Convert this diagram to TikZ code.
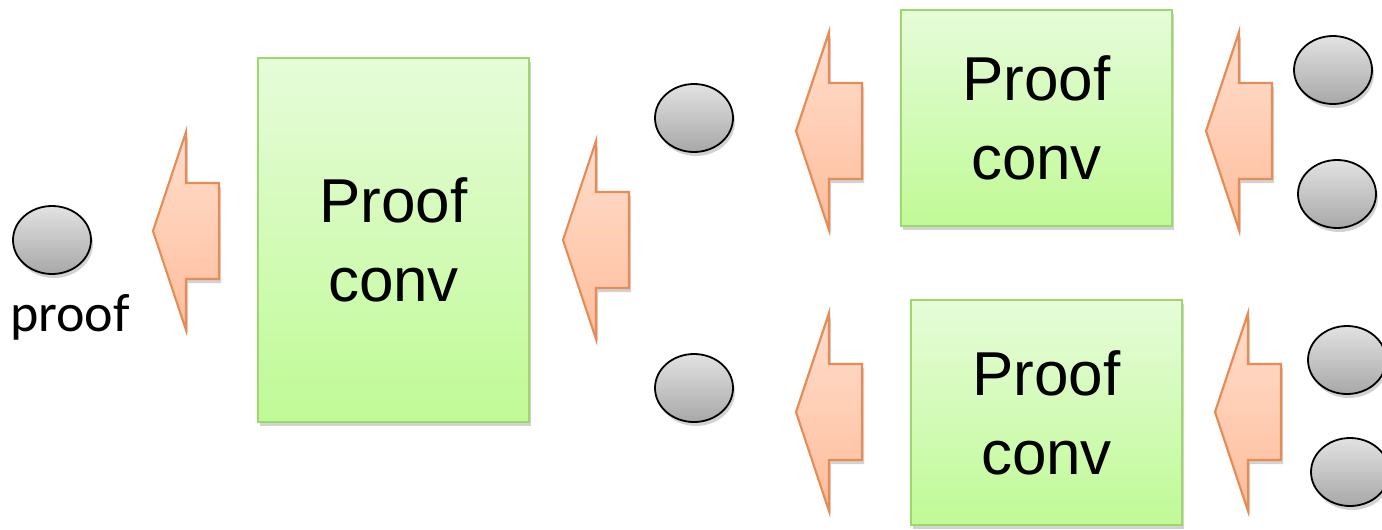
\documentclass[tikz,border=0pt]{standalone}
\usepackage{fontspec}
\setmainfont{Liberation Sans}
\newfontfamily\labelfont{Carlito}
\usetikzlibrary{shadows,shapes.geometric}

\definecolor{boxtop}{HTML}{E6FCD9}
\definecolor{boxbot}{HTML}{C0FA96}
\definecolor{boxline}{HTML}{9CD96C}
\definecolor{tokentop}{HTML}{E2E2E2}
\definecolor{tokenbot}{HTML}{A8A8A8}
\definecolor{arrtop}{HTML}{FFDECD}
\definecolor{arrbot}{HTML}{FFBD9B}
\definecolor{arrline}{HTML}{E68D57}

\begin{document}
\begin{tikzpicture}[x=1pt,y=-1pt,
  softshadow/.style={drop shadow={shadow xshift=2pt, shadow yshift=-4pt, opacity=0.25, fill=black!70}},
  convbox/.style={rectangle, draw=boxline, line width=2pt, top color=boxtop, bottom color=boxbot,
    minimum width=271pt, align=center, inner sep=0pt,
    font=\fontsize{62}{79}\selectfont, softshadow},
  token/.style={ellipse, draw=black, line width=1.8pt, top color=tokentop, bottom color=tokenbot,
    minimum width=78pt, minimum height=68pt, inner sep=0pt, softshadow},
  flow/.style={draw=arrline, line width=2.2pt, line join=miter, top color=arrtop, bottom color=arrbot, softshadow}
]
\useasboundingbox (0,0) rectangle (1382,530);

% result token and its label
\node[token] (out) at (52,240) {};
\node[font=\labelfont\fontsize{54}{58}\selectfont] (outlbl) at (70,317) {proof};

% converters
\node[convbox, minimum height=364pt] (conv) at (393.5,240) {Proof\\conv};
\node[convbox, minimum height=216pt] (convA) at (1036.5,118) {Proof\\conv};
\node[convbox, minimum height=225pt] (convB) at (1046.5,412.5) {Proof\\conv};

% intermediate tokens
\node[token] (midA) at (694,118) {};
\node[token] (midB) at (694,388) {};

% input tokens
\node[token] (inA1) at (1333,70) {};
\node[token] (inA2) at (1337,194) {};
\node[token] (inB1) at (1347,360) {};
\node[token] (inB2) at (1350,472) {};

% tips of the block arrows
\coordinate (t1) at (153,231);
\coordinate (t2) at (563,240);
\coordinate (t3) at (796,131);
\coordinate (t4) at (796,412);
\coordinate (t5) at (1206,131);
\coordinate (t6) at (1215,412);

\foreach \t in {t1,t2,t3,t4,t5,t6}
  \draw[flow] (\t) -- ++(33,-99) -- ++(0,51) -- ++(33,0) -- ++(0,96)
              -- ++(-33,0) -- ++(0,51) -- cycle;
\end{tikzpicture}
\end{document}
